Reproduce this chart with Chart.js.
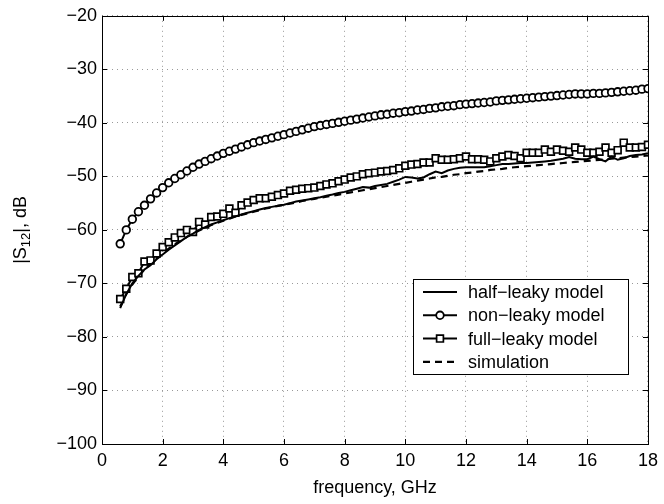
<!DOCTYPE html>
<html>
<head>
<meta charset="utf-8">
<script src="https://cdn.jsdelivr.net/npm/chart.js@4.4.0/dist/chart.umd.min.js"></script>
<style>
  body { margin: 0; background: #fff; }
  canvas { display: block; }
</style>
</head>
<body>
<canvas id="s12Chart" width="664" height="504"></canvas>
<script>
// Frequency points (GHz)
const freqGHz = [
  0.6, 0.8, 1.0, 1.2, 1.4, 1.6, 1.8, 2.0, 2.2, 2.4, 2.6, 2.8, 3.0, 3.2, 3.4, 3.6, 3.8, 4.0,
  4.2, 4.4, 4.6, 4.8, 5.0, 5.2, 5.4, 5.6, 5.8, 6.0, 6.2, 6.4, 6.6, 6.8, 7.0, 7.2, 7.4, 7.6,
  7.8, 8.0, 8.2, 8.4, 8.6, 8.8, 9.0, 9.2, 9.4, 9.6, 9.8, 10.0, 10.2, 10.4, 10.6, 10.8, 11.0, 11.2,
  11.4, 11.6, 11.8, 12.0, 12.2, 12.4, 12.6, 12.8, 13.0, 13.2, 13.4, 13.6, 13.8, 14.0, 14.2, 14.4,
  14.6, 14.8, 15.0, 15.2, 15.4, 15.6, 15.8, 16.0, 16.2, 16.4, 16.6, 16.8, 17.0, 17.2, 17.4, 17.6,
  17.8, 18.0
];

// |S12| in dB for each model
const halfLeaky = [
  -74.6, -72.0, -70.0, -68.6, -67.4, -66.6, -65.5, -64.6, -63.7, -62.9, -62.1, -61.3, -60.7, -60.0, -59.5, -59.0, -58.6, -58.2,
  -57.8, -57.5, -57.1, -56.8, -56.5, -56.2, -55.9, -55.7, -55.5, -55.3, -55.0, -54.7, -54.5, -54.3, -54.1, -53.9, -53.6, -53.4,
  -53.1, -52.9, -52.6, -52.3, -52.0, -52.1, -51.8, -51.6, -51.4, -51.0, -50.6, -50.1, -50.2, -50.4, -50.2, -49.6, -49.1, -49.4,
  -48.9, -48.6, -48.4, -48.3, -48.3, -48.3, -48.3, -48.1, -47.9, -47.7, -47.7, -47.6, -47.5, -47.5, -47.4, -47.3,
  -47.2, -47.1, -46.9, -46.7, -46.4, -46.7, -46.8, -46.8, -46.3, -46.8, -47.2, -46.3, -46.9, -46.6, -46.2, -46.0,
  -45.9, -45.7
];

const nonLeaky = [
  -62.6, -60.0, -58.0, -56.6, -55.4, -54.2, -53.1, -52.1, -51.2, -50.4, -49.7, -49.0, -48.3, -47.7, -47.2, -46.7, -46.2, -45.7,
  -45.3, -44.9, -44.5, -44.1, -43.7, -43.4, -43.1, -42.8, -42.5, -42.2, -41.9, -41.6, -41.3, -41.0, -40.7, -40.5, -40.3, -40.1,
  -39.9, -39.7, -39.5, -39.3, -39.1, -38.9, -38.7, -38.5, -38.4, -38.2, -38.1, -37.9, -37.8, -37.6, -37.5, -37.3, -37.2, -37.0,
  -36.9, -36.8, -36.6, -36.5, -36.4, -36.3, -36.2, -36.1, -35.9, -35.8, -35.7, -35.6, -35.5, -35.4, -35.3, -35.2,
  -35.1, -35.0, -34.9, -34.8, -34.7, -34.6, -34.6, -34.6, -34.5, -34.5, -34.4, -34.3, -34.2, -34.1, -34.0, -33.9,
  -33.7, -33.6
];

const fullLeaky = [
  -72.9, -71.0, -68.8, -68.1, -65.9, -65.7, -64.4, -63.2, -62.3, -61.4, -60.6, -60.0, -60.4, -58.5, -59.0, -57.6, -57.5, -57.0,
  -56.0, -56.8, -55.4, -54.9, -54.4, -54.1, -54.1, -53.8, -53.5, -53.2, -52.7, -52.5, -52.3, -52.2, -52.1, -51.8, -51.5, -51.3,
  -50.9, -50.6, -50.2, -50.0, -49.6, -49.4, -49.3, -49.1, -49.0, -48.8, -48.5, -48.0, -47.8, -47.7, -47.4, -47.4, -46.6, -46.9,
  -46.9, -46.8, -46.6, -46.3, -46.8, -46.8, -46.9, -47.2, -46.6, -46.3, -46.0, -46.2, -46.6, -45.6, -45.6, -45.6,
  -45.0, -45.4, -45.0, -45.2, -45.4, -44.6, -45.0, -45.6, -45.6, -45.4, -44.6, -45.6, -45.1, -43.7, -44.6, -44.6,
  -44.5, -44.1
];

const simulation = [
  -74.3, -72.0, -70.2, -68.7, -67.4, -66.3, -65.3, -64.4, -63.5, -62.7, -62.0, -61.3, -60.7, -60.1, -59.6, -59.1, -58.7, -58.3,
  -57.9, -57.5, -57.2, -56.9, -56.6, -56.3, -56.0, -55.8, -55.5, -55.3, -55.1, -54.9, -54.6, -54.4, -54.2, -54.0, -53.8, -53.6,
  -53.4, -53.2, -53.0, -52.8, -52.6, -52.4, -52.2, -52.0, -51.8, -51.6, -51.4, -51.2, -51.0, -50.8, -50.6, -50.4, -50.2, -50.1,
  -49.9, -49.7, -49.6, -49.4, -49.3, -49.1, -49.0, -48.8, -48.7, -48.6, -48.4, -48.3, -48.2, -48.1, -48.0, -47.9,
  -47.8, -47.7, -47.6, -47.5, -47.4, -47.3, -47.2, -47.1, -47.0, -46.9, -46.8, -46.7, -46.6, -46.5, -46.4, -46.3,
  -46.2, -46.1
];

const seriesLabels = ['half\u2212leaky model', 'non\u2212leaky model', 'full\u2212leaky model', 'simulation'];

// Axis ticks
const xTicks = [0, 2, 4, 6, 8, 10, 12, 14, 16, 18];
const yTicks = [-100, -90, -80, -70, -60, -50, -40, -30, -20];

const FONT = '"Liberation Sans", Arial, Helvetica, sans-serif';

function toPoints(values) {
    return freqGHz.map((f, i) => ({ x: f, y: values[i] }));
}

// Draws the MATLAB style frame, inner ticks, y title and legend box
const matlabFrame = {
    id: 'matlabFrame',
    afterDraw(chart) {
        const ctx = chart.ctx;
        const area = chart.chartArea;
        const xs = chart.scales.x;
        const ys = chart.scales.y;
        const tickLen = 5;

        ctx.save();
        ctx.strokeStyle = '#000';
        ctx.lineWidth = 1;

        // inner tick marks
        ctx.beginPath();
        xTicks.forEach(v => {
            const px = Math.round(xs.getPixelForValue(v)) + 0.5;
            ctx.moveTo(px, area.bottom);
            ctx.lineTo(px, area.bottom - tickLen);
            ctx.moveTo(px, area.top);
            ctx.lineTo(px, area.top + tickLen);
        });
        yTicks.forEach(v => {
            const py = Math.round(ys.getPixelForValue(v)) + 0.5;
            ctx.moveTo(area.left, py);
            ctx.lineTo(area.left + tickLen, py);
            ctx.moveTo(area.right, py);
            ctx.lineTo(area.right - tickLen, py);
        });
        ctx.stroke();

        // box
        ctx.strokeRect(Math.round(area.left) + 0.5, Math.round(area.top) + 0.5,
            Math.round(area.right - area.left), Math.round(area.bottom - area.top));

        // y axis title with subscript
        ctx.fillStyle = '#000';
        ctx.translate(21, (area.top + area.bottom) / 2);
        ctx.rotate(-Math.PI / 2);
        ctx.textBaseline = 'middle';
        const big = '18px ' + FONT;
        const small = '13px ' + FONT;
        ctx.font = big;
        const w1 = ctx.measureText('|S').width;
        const w3 = ctx.measureText('|, dB').width;
        ctx.font = small;
        const w2 = ctx.measureText('12').width;
        let tx = -(w1 + w2 + w3) / 2;
        ctx.font = big;
        ctx.fillText('|S', tx, 0);
        tx += w1;
        ctx.font = small;
        ctx.fillText('12', tx, 5);
        tx += w2;
        ctx.font = big;
        ctx.fillText('|, dB', tx, 0);
        ctx.restore();

        // legend
        const box = { left: 413, top: 279, width: 215, height: 95 };
        ctx.save();
        ctx.fillStyle = '#fff';
        ctx.fillRect(box.left, box.top, box.width, box.height);
        ctx.strokeStyle = '#000';
        ctx.lineWidth = 1;
        ctx.strokeRect(box.left + 0.5, box.top + 0.5, box.width, box.height);
        ctx.font = '18px ' + FONT;
        ctx.textBaseline = 'middle';
        chart.data.datasets.forEach((ds, i) => {
            const cy = box.top + 13 + i * 23.3;
            ctx.strokeStyle = ds.borderColor;
            ctx.lineWidth = ds.borderWidth;
            ctx.setLineDash(ds.borderDash || []);
            ctx.beginPath();
            ctx.moveTo(box.left + 10, cy);
            ctx.lineTo(box.left + 44, cy);
            ctx.stroke();
            ctx.setLineDash([]);
            if (ds.pointRadius > 0) {
                ctx.fillStyle = ds.pointBackgroundColor;
                ctx.strokeStyle = ds.pointBorderColor;
                ctx.lineWidth = ds.pointBorderWidth;
                Chart.helpers.drawPoint(ctx, {
                    pointStyle: ds.pointStyle,
                    radius: ds.pointRadius,
                    rotation: 0,
                    borderWidth: ds.pointBorderWidth
                }, box.left + 27, cy);
            }
            ctx.fillStyle = '#000';
            ctx.fillText(ds.label, box.left + 55, cy + 1);
        });
        ctx.restore();
    }
};

const s12Chart = new Chart(document.getElementById('s12Chart').getContext('2d'), {
    type: 'line',
    data: {
        datasets: [{
            label: seriesLabels[0],
            data: toPoints(halfLeaky),
            borderColor: '#000',
            borderWidth: 2,
            pointRadius: 0
        }, {
            label: seriesLabels[1],
            data: toPoints(nonLeaky),
            borderColor: '#000',
            borderWidth: 2,
            pointStyle: 'circle',
            pointRadius: 3.8,
            pointBackgroundColor: '#fff',
            pointBorderColor: '#000',
            pointBorderWidth: 1.8
        }, {
            label: seriesLabels[2],
            data: toPoints(fullLeaky),
            borderColor: '#000',
            borderWidth: 2,
            pointStyle: 'rect',
            pointRadius: 4.8,
            pointBackgroundColor: '#fff',
            pointBorderColor: '#000',
            pointBorderWidth: 1.7
        }, {
            label: seriesLabels[3],
            data: toPoints(simulation),
            borderColor: '#000',
            borderWidth: 2.2,
            borderDash: [7, 5],
            pointRadius: 0
        }]
    },
    options: {
        responsive: false,
        animation: false,
        layout: { padding: { left: 0, right: 6, top: 5, bottom: 0 } },
        elements: { line: { tension: 0 } },
        plugins: {
            legend: { display: false },
            tooltip: { enabled: false }
        },
        scales: {
            x: {
                type: 'linear',
                min: 0,
                max: 18,
                afterBuildTicks: scale => { scale.ticks = xTicks.map(v => ({ value: v })); },
                afterFit: scale => { scale.height = 60; },
                grid: { color: '#999', drawTicks: false },
                border: { display: false, dash: [1, 4] },
                ticks: {
                    color: '#000',
                    padding: 6,
                    maxRotation: 0,
                    font: { family: FONT, size: 18 }
                },
                title: {
                    display: true,
                    text: 'frequency, GHz',
                    color: '#000',
                    font: { family: FONT, size: 18 },
                    padding: { top: 0, bottom: 5 }
                }
            },
            y: {
                type: 'linear',
                min: -100,
                max: -20,
                afterBuildTicks: scale => { scale.ticks = yTicks.map(v => ({ value: v })); },
                afterFit: scale => { scale.width = 102; },
                grid: { color: '#999', drawTicks: false },
                border: { display: false, dash: [1, 4] },
                ticks: {
                    color: '#000',
                    padding: 5,
                    font: { family: FONT, size: 18 },
                    callback: v => String(v).replace('-', '\u2212')
                }
            }
        }
    },
    plugins: [matlabFrame]
});
</script>
</body>
</html>
